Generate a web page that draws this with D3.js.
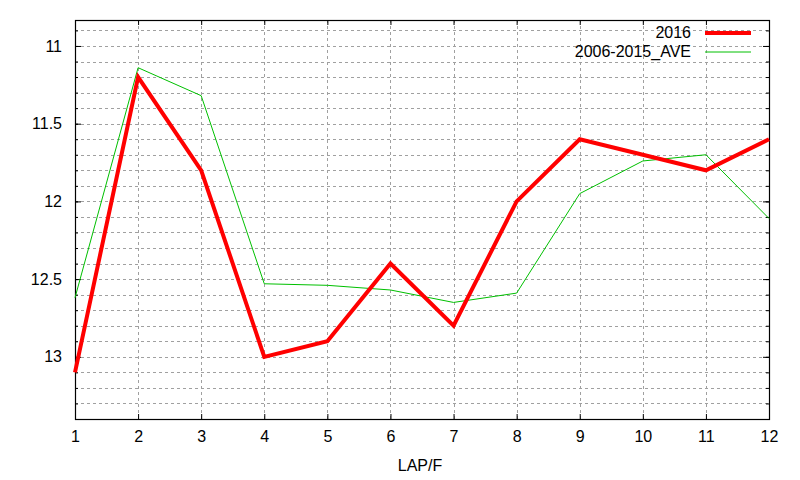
<!DOCTYPE html>
<html lang="en">
<head>
    <meta charset="utf-8" />
    <title>LAP/F</title>
    <script src="https://d3js.org/d3.v7.min.js"></script>
    <style>
        body {
            margin: 0;
            padding: 0;
            background: white;
        }
        svg text {
            font-family: "Liberation Sans", Arial, sans-serif;
        }
    </style>
</head>
<body>
<svg id="chart"></svg>
<script>
    var w = 800;
    var h = 480;

    // laps on the x axis
    var laps = [1, 2, 3, 4, 5, 6, 7, 8, 9, 10, 11, 12];
    // 2016 values
    var y2016 = [13.1, 11.2, 11.8, 13.0, 12.9, 12.4, 12.8, 12.0, 11.6, 11.7, 11.8, 11.6];
    // 2006-2015 average
    var yAve = [12.62, 11.14, 11.32, 12.53, 12.54, 12.57, 12.65, 12.59, 11.95, 11.74, 11.70, 12.11];
    var yTicks = [11, 11.5, 12, 12.5, 13];
    var seriesNames = ["2016", "2006-2015_AVE"];

    var margin = {top: 20, right: 31, bottom: 61, left: 75};

    var svg = d3.select("#chart")
                .attr("width", w)
                .attr("height", h);

    var xScale = d3.scaleLinear()
                .domain([1, 12])
                .range([margin.left, w - margin.right]);

    // inverted y axis: small times at the top
    var yScale = d3.scaleLinear()
                .domain([10.833, 13.4])
                .range([margin.top, h - margin.bottom]);

    var minorY = d3.range(109, 135).map(function(d) { return d / 10; });

    // grid lines
    var grid = svg.append("g")
                .attr("stroke", "#a0a0a0")
                .attr("stroke-width", 1)
                .attr("stroke-dasharray", "3,3");

    grid.selectAll("line.gy")
        .data(minorY)
        .enter().append("line")
        .attr("x1", margin.left)
        .attr("x2", w - margin.right)
        .attr("y1", function(d) { return Math.round(yScale(d)) + 0.5; })
        .attr("y2", function(d) { return Math.round(yScale(d)) + 0.5; });

    grid.selectAll("line.gx")
        .data(laps.slice(1, -1))
        .enter().append("line")
        .attr("x1", function(d) { return Math.round(xScale(d)) + 0.5; })
        .attr("x2", function(d) { return Math.round(xScale(d)) + 0.5; })
        .attr("y1", margin.top)
        .attr("y2", h - margin.bottom);

    // axes
    var axisLeft = d3.axisLeft(yScale).tickValues(yTicks).tickSize(-6).tickPadding(13).tickFormat(d3.format("~g"));
    var axisLeftMinor = d3.axisLeft(yScale).tickValues(minorY).tickSize(-3).tickFormat("");
    var axisRight = d3.axisRight(yScale).tickValues(yTicks).tickSize(-6).tickFormat("");
    var axisRightMinor = d3.axisRight(yScale).tickValues(minorY).tickSize(-3).tickFormat("");
    var axisBottom = d3.axisBottom(xScale).tickValues(laps).tickSize(-5).tickPadding(12).tickFormat(d3.format("d"));
    var axisTop = d3.axisTop(xScale).tickValues(laps).tickSize(-5).tickFormat("");

    function styleAxis(g) {
        g.select(".domain").remove();
        g.selectAll(".tick line").attr("stroke", "#000");
        g.selectAll(".tick text")
            .attr("font-size", "16px")
            .attr("fill", "#000");
    }

    svg.append("g").attr("transform", "translate(" + margin.left + ",0)").call(axisLeft).call(styleAxis);
    svg.append("g").attr("transform", "translate(" + margin.left + ",0)").call(axisLeftMinor).call(styleAxis);
    svg.append("g").attr("transform", "translate(" + (w - margin.right) + ",0)").call(axisRight).call(styleAxis);
    svg.append("g").attr("transform", "translate(" + (w - margin.right) + ",0)").call(axisRightMinor).call(styleAxis);
    svg.append("g").attr("transform", "translate(0," + (h - margin.bottom) + ")").call(axisBottom).call(styleAxis);
    svg.append("g").attr("transform", "translate(0," + margin.top + ")").call(axisTop).call(styleAxis);

    // plot border
    svg.append("rect")
        .attr("x", margin.left + 0.5)
        .attr("y", margin.top + 0.5)
        .attr("width", w - margin.left - margin.right)
        .attr("height", h - margin.top - margin.bottom)
        .attr("fill", "none")
        .attr("stroke", "#000")
        .attr("stroke-width", 1.2);

    // x axis title
    svg.append("text")
        .attr("x", 420)
        .attr("y", 471)
        .attr("text-anchor", "middle")
        .attr("font-size", "16px")
        .text("LAP/F");

    var line = d3.line()
        .x(function(d, i) { return xScale(laps[i]); })
        .y(function(d) { return yScale(d); });

    // average line (thin green)
    svg.append("path")
        .datum(yAve)
        .attr("d", line)
        .attr("fill", "none")
        .attr("stroke", "#00c000")
        .attr("stroke-width", 1);

    // 2016 line (thick red)
    svg.append("path")
        .datum(y2016)
        .attr("d", line)
        .attr("fill", "none")
        .attr("stroke", "#ff0000")
        .attr("stroke-width", 4)
        .attr("stroke-linejoin", "miter");

    // legend
    var legendColors = ["#ff0000", "#00c000"];
    var legendWidths = [4, 1];
    var legend = svg.append("g");
    legend.selectAll("text")
        .data(seriesNames)
        .enter().append("text")
        .attr("x", 691)
        .attr("y", function(d, i) { return 38 + i * 19; })
        .attr("text-anchor", "end")
        .attr("font-size", "16px")
        .text(function(d) { return d; });
    legend.selectAll("line")
        .data(seriesNames)
        .enter().append("line")
        .attr("x1", 705)
        .attr("x2", 751)
        .attr("y1", function(d, i) { return 33 + i * 19; })
        .attr("y2", function(d, i) { return 33 + i * 19; })
        .attr("stroke", function(d, i) { return legendColors[i]; })
        .attr("stroke-width", function(d, i) { return legendWidths[i]; });
</script>
</body>
</html>
